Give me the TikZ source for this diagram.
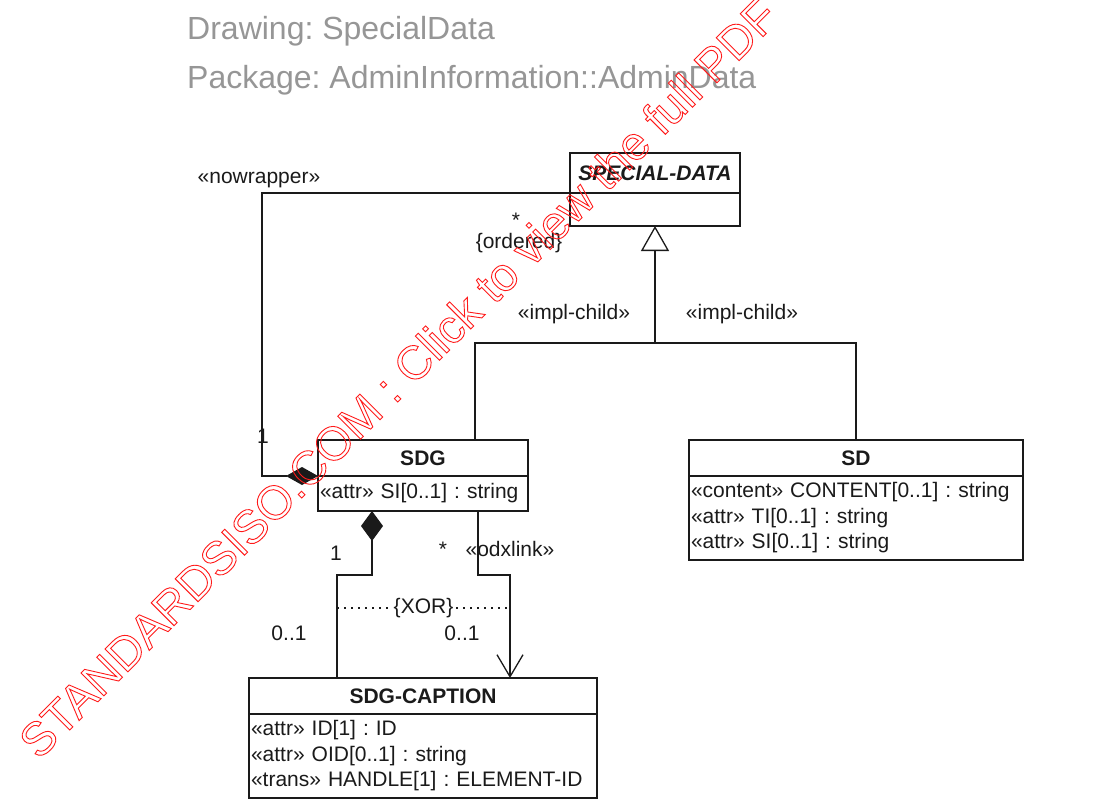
\documentclass[tikz,border=0pt]{standalone}
\usepackage{fontspec}
\setmainfont{Liberation Sans}
\usepackage{tikz}
\usetikzlibrary{arrows.meta, calc, positioning}
\frenchspacing
\definecolor{lineColor}{HTML}{1A1A1A}
\definecolor{headColor}{HTML}{969696}
\definecolor{markColor}{HTML}{FF1A1A}
\tikzset{
    head/.style={font=\fontsize{32}{32}\selectfont, text=headColor, inner sep=0pt},
    clstitle/.style={draw=lineColor, line width=1.3pt, outer sep=0pt, inner sep=0pt,
        minimum height=36pt, text=lineColor, font=\fontsize{21}{25.5}\selectfont\bfseries},
    clsbody/.style={draw=lineColor, line width=1.3pt, outer sep=0pt, inner xsep=2pt, inner ysep=0pt,
        align=left, text=lineColor, font=\fontsize{21}{25.5}\selectfont},
    assoc/.style={draw=lineColor, line width=1.3pt},
    lbl/.style={font=\fontsize{21}{25.5}\selectfont, text=lineColor, inner sep=0pt},
}

\begin{document}
\begin{tikzpicture}[x=1pt, y=-1pt]
    \useasboundingbox (0,0) rectangle (1112,803);
    \node[head, anchor=base west] (drawing) at (187,39) {Drawing: SpecialData};
    \node[head, anchor=base west] (package) at (187,88) {Package: AdminInformation::AdminData};

    \node[clstitle, minimum width=170pt, minimum height=40pt,
        font=\fontsize{21}{25.5}\selectfont\bfseries\itshape] (sdata) at (655,173) {SPECIAL-DATA};
    \node[clsbody, minimum width=170pt, minimum height=33pt, below=0pt of sdata] (sdatabody) {};

    \node[clstitle, minimum width=210pt] (sdg) at (423,458) {SDG};
    \node[clsbody, text width=206pt, minimum height=35pt, below=0pt of sdg] (sdgattr)
        {«attr» SI[0..1] : string};

    \node[clstitle, minimum width=334pt] (sd) at (856,458) {SD};
    \node[clsbody, text width=330pt, minimum height=84pt, below=0pt of sd] (sdattr)
        {«content» CONTENT[0..1] : string\\«attr» TI[0..1] : string\\«attr» SI[0..1] : string};

    \node[clstitle, minimum width=348pt] (caption) at (423,696) {SDG-CAPTION};
    \node[clsbody, text width=344pt, minimum height=84pt, below=0pt of caption] (captionattr)
        {«attr» ID[1] : ID\\«attr» OID[0..1] : string\\«trans» HANDLE[1] : ELEMENT-ID};

    \coordinate (fork) at (655,343);
    \draw[assoc] ([xshift=52pt]sdg.north) |- (fork) -| (sd.north);
    \draw[assoc, -{Triangle[open, length=25pt, width=28pt]}] (fork) -- (sdatabody.south);

    \draw[assoc, {Diamond[length=32pt, width=18pt]}-] (sdg.south west) -- ++(-56,0) |- (sdata.south west);

    \draw[assoc, {Diamond[length=30pt, width=22pt]}-] ([xshift=-51pt]sdgattr.south) -- ++(0,64)
        -| ([xshift=-86pt]caption.north);
    \draw[assoc, -{Straight Barb[length=22pt, width=26pt]}] ([xshift=55pt]sdgattr.south) -- ++(0,64)
        -| ([xshift=87pt]caption.north);

    \coordinate (xorleft) at (337,608);
    \coordinate (xorright) at (510,608);
    \draw[lineColor, line width=1.3pt, dash pattern=on 1.5pt off 5.5pt] (xorleft) --
        node[lbl, fill=white, inner xsep=1pt] (xor) {\{XOR\}} (xorright);

    \node[lbl] (nowrap) at (259,180) {«nowrapper»};
    \node[lbl] (many) at (516,220) {*};
    \node[lbl] (ordered) at (519,243) {\{ordered\}};
    \node[lbl] (one) at (263,436) {1};
    \node[lbl] (implleft) at (574,314) {«impl-child»};
    \node[lbl] (implright) at (742,314) {«impl-child»};
    \node[lbl] (capone) at (336,553) {1};
    \node[lbl] (capopt) at (289,633) {0..1};
    \node[lbl] (linkmany) at (443,549) {*};
    \node[lbl] (odxlink) at (510,549) {«odxlink»};
    \node[lbl] (linkopt) at (462,633) {0..1};

    \node[rotate=45, text=markColor, inner sep=0pt, font=\fontsize{47}{47}\selectfont] (mark) at (398,378)
        {\special{pdf:literal direct 1 Tr 0.9 w}STANDARDSISO.COM : Click to view the full PDF\special{pdf:literal direct 0 Tr}};
\end{tikzpicture}
\end{document}
